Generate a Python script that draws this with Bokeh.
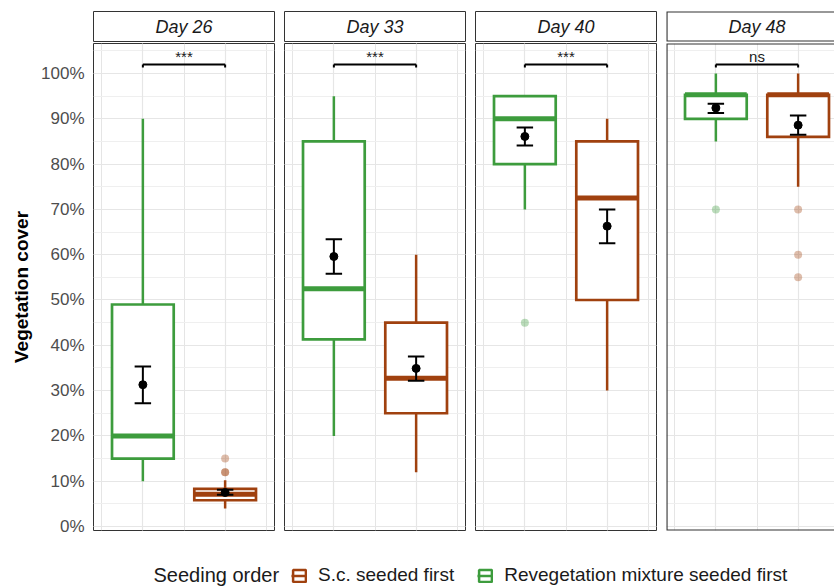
import numpy as np
from bokeh.plotting import figure
from bokeh.layouts import row, column
from bokeh.models import (Range1d, FixedTicker, Grid, LinearAxis, PrintfTickFormatter,
                          ColumnDataSource, Legend, LegendItem, Label)
from bokeh.core.properties import value
from bokeh.embed import file_html
from bokeh.resources import INLINE

# ---------------- data (percent vegetation cover) ----------------
days = ["Day 26", "Day 33", "Day 40", "Day 48"]
groups = ["Revegetation mixture seeded first", "S.c. seeded first"]
legend_order = ["S.c. seeded first", "Revegetation mixture seeded first"]
legend_title = "Seeding order"
y_ticks = [0, 10, 20, 30, 40, 50, 60, 70, 80, 90, 100]
y_minor = [5, 15, 25, 35, 45, 55, 65, 75, 85, 95, 105]

reveg_lower = [10, 20, 70, 85]
reveg_q1 = [15, 41.3, 80, 90]
reveg_median = [20, 52.5, 90, 95.3]
reveg_q3 = [49, 85, 95, 95.3]
reveg_upper = [90, 95, 95, 100]
reveg_mean = [31.3, 59.6, 86.1, 92.4]
reveg_err_lo = [27.2, 55.8, 84.1, 91.3]
reveg_err_hi = [35.3, 63.4, 88.1, 93.3]
reveg_outliers = [[], [], [45], [70]]

sc_lower = [4, 12, 30, 75]
sc_q1 = [5.8, 25, 50, 86]
sc_median = [7.1, 32.7, 72.5, 95.3]
sc_q3 = [8.3, 45, 85, 95.3]
sc_upper = [10.2, 60, 90, 100]
sc_mean = [7.5, 34.9, 66.3, 88.6]
sc_err_lo = [7.0, 32.2, 62.5, 86.5]
sc_err_hi = [8.1, 37.5, 70, 90.7]
sc_outliers = [[15, 12, 12], [], [], [70, 60, 55]]

significance = ["***", "***", "***", "ns"]

# ---------------- styling ----------------
GREEN = "#3d9c3d"
BROWN = "#a0410f"
colors = {groups[0]: GREEN, groups[1]: BROWN}
FONT = "Liberation Sans"
FRAME = "#333333"
GRID_MAJOR = "#e6e6e6"
GRID_MINOR = "#efefef"
BOX_W = 0.75
CAP = 0.1
Y_START, Y_END = -0.883, 106.62
BRACKET_Y, BRACKET_TICK, SIG_Y = 102.0, 0.7, 103.7

xpos = np.arange(1, len(groups) + 1)
x_lo, x_hi = 0.4, len(groups) + 0.6
full_w = 181
widths = [full_w, full_w, full_w, 168]

series = {
    groups[0]: dict(lower=reveg_lower, q1=reveg_q1, med=reveg_median, q3=reveg_q3, upper=reveg_upper,
                    mean=reveg_mean, lo=reveg_err_lo, hi=reveg_err_hi, out=reveg_outliers),
    groups[1]: dict(lower=sc_lower, q1=sc_q1, med=sc_median, q3=sc_q3, upper=sc_upper,
                    mean=sc_mean, lo=sc_err_lo, hi=sc_err_hi, out=sc_outliers),
}


def frame_box(fig, is_cut, y0, y1):
    """Panel border: normal outline, or (for the cut-off last panel) an open-ended box."""
    if is_cut:
        fig.outline_line_color = None
        fig.quad(left=[x_lo], right=[x_hi], bottom=[y0], top=[y1], fill_color=None,
                 line_color=FRAME, line_width=2.2)
    else:
        fig.outline_line_color = FRAME
        fig.outline_line_width = 1


strips, panels = [], []
for i, day in enumerate(days):
    fw = widths[i]
    is_cut = fw < full_w
    xr_end = x_lo + (x_hi - x_lo) * fw / full_w
    left = 93 if i == 0 else 5
    right = 0 if i == len(days) - 1 else 5

    # ---- strip ----
    s = figure(frame_width=fw, frame_height=30, x_range=Range1d(x_lo, xr_end), y_range=Range1d(0, 1),
               min_border_left=left, min_border_right=right, min_border_top=11, min_border_bottom=1,
               toolbar_location=None, output_backend="svg",
               x_axis_location=None, y_axis_location=None)
    s.grid.visible = False
    frame_box(s, is_cut, 0, 1)
    s.text(x=[(xpos[0] + xpos[-1]) / 2], y=[0.5], text=[day], text_align="center",
           text_baseline="middle", text_font=value(FONT), text_font_size="18px",
           text_font_style="italic", text_color="#1a1a1a")
    strips.append(s)

    # ---- panel ----
    p = figure(frame_width=fw, frame_height=487, x_range=Range1d(x_lo, xr_end),
               y_range=Range1d(Y_START, Y_END),
               min_border_left=left, min_border_right=right, min_border_top=1, min_border_bottom=10,
               toolbar_location=None, output_backend="svg",
               x_axis_location=None, y_axis_location=None)
    yg = Grid(dimension=1, ticker=FixedTicker(ticks=y_ticks, minor_ticks=y_minor),
              grid_line_color=GRID_MAJOR, grid_line_width=1.2,
              minor_grid_line_color=GRID_MINOR, minor_grid_line_width=1)
    xg = Grid(dimension=0, ticker=FixedTicker(ticks=list(xpos)),
              grid_line_color=GRID_MAJOR, grid_line_width=1.2)
    p.add_layout(yg)
    p.add_layout(xg)
    frame_box(p, is_cut, Y_START, Y_END)

    if i == 0:
        ax = LinearAxis(ticker=FixedTicker(ticks=y_ticks), formatter=PrintfTickFormatter(format="%d%%"),
                        axis_label="Vegetation cover")
        ax.axis_line_color = None
        ax.major_tick_line_color = None
        ax.minor_tick_line_color = None
        ax.major_tick_in = 0
        ax.major_tick_out = 0
        ax.minor_tick_in = 0
        ax.minor_tick_out = 0
        ax.major_label_standoff = 9
        ax.major_label_text_font = FONT
        ax.major_label_text_font_size = "17px"
        ax.major_label_text_color = "#4d4d4d"
        ax.axis_label_text_font = FONT
        ax.axis_label_text_font_size = "19px"
        ax.axis_label_text_font_style = "bold"
        ax.axis_label_text_color = "black"
        ax.axis_label_standoff = 6
        p.add_layout(ax, "left")

    for g, xv in zip(groups, xpos):
        d = series[g]
        c = colors[g]
        src = ColumnDataSource(dict(x=[xv], lower=[d["lower"][i]], q1=[d["q1"][i]], med=[d["med"][i]],
                                    q3=[d["q3"][i]], upper=[d["upper"][i]], mean=[d["mean"][i]],
                                    lo=[d["lo"][i]], hi=[d["hi"][i]],
                                    x0=[xv - BOX_W / 2], x1=[xv + BOX_W / 2],
                                    c0=[xv - CAP], c1=[xv + CAP]))
        outs = d["out"][i]
        if outs:
            p.scatter(x=[xv] * len(outs), y=outs, size=8, fill_color=c, fill_alpha=0.35,
                      line_color=None)
        # whiskers
        p.segment(x0="x", y0="q3", x1="x", y1="upper", source=src, line_color=c, line_width=2.5)
        p.segment(x0="x", y0="q1", x1="x", y1="lower", source=src, line_color=c, line_width=2.5)
        # box
        p.vbar(x="x", width=BOX_W, bottom="q1", top="q3", source=src, fill_color="white",
               line_color=c, line_width=2.7, line_join="miter")
        # median
        p.segment(x0="x0", y0="med", x1="x1", y1="med", source=src, line_color=c, line_width=5,
                  line_cap="butt")
        # mean +/- error
        p.segment(x0="x", y0="lo", x1="x", y1="hi", source=src, line_color="black", line_width=2)
        p.segment(x0="c0", y0="lo", x1="c1", y1="lo", source=src, line_color="black", line_width=2)
        p.segment(x0="c0", y0="hi", x1="c1", y1="hi", source=src, line_color="black", line_width=2)
        p.scatter(x="x", y="mean", source=src, size=8, color="black")

    # significance bracket
    p.segment(x0=[xpos[0], xpos[0], xpos[-1]], y0=[BRACKET_Y] * 3,
              x1=[xpos[-1], xpos[0], xpos[-1]],
              y1=[BRACKET_Y, BRACKET_Y - BRACKET_TICK, BRACKET_Y - BRACKET_TICK],
              line_color="black", line_width=2)
    p.text(x=[(xpos[0] + xpos[-1]) / 2], y=[SIG_Y], text=[significance[i]], text_align="center",
           text_baseline="alphabetic", text_font=value(FONT), text_font_size="15px",
           text_color="#1a1a1a")
    panels.append(p)

# ---------------- legend ----------------
LEG_W, LEG_H = 834, 47
lf = figure(width=LEG_W, height=LEG_H, x_range=Range1d(0, LEG_W), y_range=Range1d(0, LEG_H),
            min_border=0, toolbar_location=None, output_backend="svg",
            x_axis_location=None, y_axis_location=None)
lf.outline_line_color = None
lf.grid.visible = False
items = []
for g in legend_order:
    c = colors[g]
    rb = lf.rect(x=[-50], y=[-50], width=1, height=1, fill_color="white", line_color=c, line_width=2.5)
    rm = lf.segment(x0=[-50], y0=[-50], x1=[-49], y1=[-50], line_color=c, line_width=2.5)
    items.append(LegendItem(label=g, renderers=[rb, rm]))
leg = Legend(items=items, orientation="horizontal", location=(291, 1),
             label_standoff=11, spacing=23, glyph_width=16, glyph_height=15,
             padding=0, margin=0, border_line_color=None, background_fill_alpha=0)
leg.label_text_font = FONT
leg.label_text_font_size = "19px"
leg.label_text_color = "#1a1a1a"
lf.add_layout(leg)
lf.add_layout(Label(x=153, y=12.5, text=legend_title, text_baseline="middle", text_align="left",
                    text_font=FONT, text_font_size="20px", text_color="#1a1a1a"))

layout = column(row(*strips), row(*panels), lf)
open("out.html", "w").write(file_html(layout, INLINE))
